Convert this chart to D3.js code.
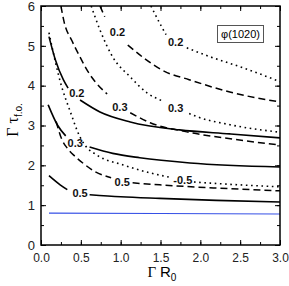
<!DOCTYPE html>
<html>
<head>
<meta charset="utf-8">
<script src="https://cdn.jsdelivr.net/npm/d3@7"></script>
<style>
  body { margin: 0; background: #fff; }
  text { font-family: "Liberation Sans", Arial, sans-serif; }
</style>
</head>
<body>
<svg id="chart" width="289" height="286"></svg>
<script>
// tick values
var xTickVals = [0, 0.5, 1.0, 1.5, 2.0, 2.5, 3.0];
var yTickVals = [0, 1, 2, 3, 4, 5, 6];

// curves, null = gap where the label sits
var solid02 = [[0.10,5.23],[0.18,4.65],[0.28,4.15],[0.34,3.94],null,[0.49,3.64],[0.74,3.34],[1.12,3.09],[1.74,2.89],[2.37,2.79],[3.0,2.69]];
var solid03 = [[0.09,3.52],[0.21,3.00],[0.31,2.74],null,[0.61,2.46],[0.90,2.30],[1.24,2.19],[1.87,2.06],[3.0,1.96]];
var solid05 = [[0.10,1.74],[0.24,1.51],[0.33,1.39],null,[0.61,1.26],[1.0,1.21],[1.49,1.17],[2.2,1.12],[3.0,1.08]];

var dashed02 = [[0.74,6.0],[0.80,5.73],null,[1.09,5.02],[1.30,4.68],[1.55,4.36],[1.86,4.15],[2.37,3.84],[3.0,3.59]];
var dashed03 = [[0.25,6.0],[0.29,5.6],[0.39,5.12],[0.49,4.72],[0.59,4.35],[0.68,4.10],[0.83,3.79],null,[1.12,3.32],[1.37,3.07],[1.83,2.84],[2.4,2.66],[3.0,2.51]];
var dashed05 = [[0.19,3.10],[0.26,2.66],[0.33,2.43],[0.43,2.22],[0.53,2.05],[0.67,1.85],[0.88,1.69],null,[1.15,1.56],[1.49,1.51],[2.2,1.43],[3.0,1.36]];

var dotted02 = [[1.38,6.0],[1.50,5.53],[1.57,5.28],null,[1.83,4.95],[2.13,4.72],[2.55,4.44],[3.0,4.10]];
var dotted03 = [[0.63,6.0],[0.74,5.40],[0.90,4.72],[1.12,4.22],[1.33,3.82],[1.52,3.62],null,[1.86,3.30],[1.96,3.22],[2.37,3.02],[3.0,2.83]];
var dotted05 = [[0.10,5.33],[0.26,3.97],[0.36,3.39],[0.49,2.71],[0.55,2.51],[0.70,2.26],[1.03,2.01],[1.37,1.81],[1.62,1.70],null,[1.92,1.58],[2.4,1.52],[3.0,1.46]];

var blueLine = [[0.10,0.80],[1.5,0.79],[3.0,0.78]];

// curve labels (text + where they sit in data units)
var labelText = ["0.2","0.3","0.5","0.2","0.3","0.5","0.2","0.3","-0.5"];
var labelX    = [0.45, 0.43, 0.49, 0.96, 0.99, 1.02, 1.69, 1.69, 1.78];
var labelY    = [3.82, 2.55, 1.31, 5.34, 3.47, 1.58, 5.10, 3.44, 1.64];

var legendLabel = "\u03c6(1020)";

var svg = d3.select("#chart");
var mLeft = 41, mRight = 280, mTop = 6, mBottom = 245;

var x = d3.scaleLinear().domain([0, 3]).range([mLeft, mRight]);
var y = d3.scaleLinear().domain([0, 6]).range([mBottom, mTop]);

var minorX = d3.range(0, 3.01, 0.25);
var minorY = d3.range(0, 6.01, 0.5);

svg.append("clipPath").attr("id", "plotclip")
  .append("rect").attr("x", mLeft).attr("y", mTop)
  .attr("width", mRight - mLeft).attr("height", mBottom - mTop);

// axes: ticks point inwards on all four sides
function styleAxis(g) {
  g.select(".domain").remove();
  g.selectAll(".tick line").attr("stroke", "#000").attr("stroke-width", 1);
  g.selectAll(".tick text").attr("fill", "#222")
    .style("font-size", "12px")
    .style("font-family", "'Liberation Sans', Arial, sans-serif");
}

svg.append("g").attr("transform", "translate(0," + mBottom + ")")
  .call(d3.axisBottom(x).tickValues(xTickVals).tickSize(-5).tickPadding(8).tickFormat(d3.format(".1f")))
  .call(styleAxis);
svg.append("g").attr("transform", "translate(0," + mBottom + ")")
  .call(d3.axisBottom(x).tickValues(minorX).tickSize(-3).tickFormat(""))
  .call(styleAxis);
svg.append("g").attr("transform", "translate(0," + mTop + ")")
  .call(d3.axisTop(x).tickValues(xTickVals).tickSize(-5).tickFormat(""))
  .call(styleAxis);
svg.append("g").attr("transform", "translate(0," + mTop + ")")
  .call(d3.axisTop(x).tickValues(minorX).tickSize(-3).tickFormat(""))
  .call(styleAxis);

svg.append("g").attr("transform", "translate(" + mLeft + ",0)")
  .call(d3.axisLeft(y).tickValues(yTickVals).tickSize(-5).tickPadding(6).tickFormat(d3.format("d")))
  .call(styleAxis)
  .selectAll(".tick text").style("font-size", "13px");
svg.append("g").attr("transform", "translate(" + mLeft + ",0)")
  .call(d3.axisLeft(y).tickValues(minorY).tickSize(-3).tickFormat(""))
  .call(styleAxis);
svg.append("g").attr("transform", "translate(" + mRight + ",0)")
  .call(d3.axisRight(y).tickValues(yTickVals).tickSize(-5).tickFormat(""))
  .call(styleAxis);
svg.append("g").attr("transform", "translate(" + mRight + ",0)")
  .call(d3.axisRight(y).tickValues(minorY).tickSize(-3).tickFormat(""))
  .call(styleAxis);

// the curves
var line = d3.line()
  .defined(function(d) { return d !== null; })
  .x(function(d) { return x(d[0]); })
  .y(function(d) { return y(d[1]); })
  .curve(d3.curveMonotoneX);

var plot = svg.append("g").attr("clip-path", "url(#plotclip)");

function drawCurve(data, dash, width, color) {
  plot.append("path")
    .datum(data)
    .attr("d", line)
    .attr("fill", "none")
    .attr("stroke", color || "#000")
    .attr("stroke-width", width)
    .attr("stroke-dasharray", dash);
}

drawCurve(blueLine, null, 1.1, "#3650e6");

drawCurve(solid02, null, 1.6);
drawCurve(solid03, null, 1.6);
drawCurve(solid05, null, 1.6);

drawCurve(dashed02, "7,4", 1.5);
drawCurve(dashed03, "7,4", 1.5);
drawCurve(dashed05, "7,4", 1.5);

drawCurve(dotted02, "1.6,3.6", 1.6);
drawCurve(dotted03, "1.6,3.6", 1.6);
drawCurve(dotted05, "1.6,3.6", 1.6);

// labels on the curves
svg.append("g").selectAll("text")
  .data(labelText)
  .join("text")
  .attr("x", function(d, i) { return x(labelX[i]); })
  .attr("y", function(d, i) { return y(labelY[i]); })
  .attr("text-anchor", "middle")
  .attr("dy", "0.36em")
  .style("font-size", "11px")
  .style("font-weight", "bold")
  .attr("fill", "#111")
  .text(function(d) { return d; });

// frame
svg.append("rect")
  .attr("x", mLeft).attr("y", mTop)
  .attr("width", mRight - mLeft).attr("height", mBottom - mTop)
  .attr("fill", "none").attr("stroke", "#000").attr("stroke-width", 1.5);

// legend box
svg.append("rect")
  .attr("x", 217.5).attr("y", 25.5).attr("width", 46).attr("height", 17)
  .attr("fill", "#fff").attr("stroke", "#555").attr("stroke-width", 1);
svg.append("text")
  .attr("x", 240.5).attr("y", 37.5)
  .attr("text-anchor", "middle")
  .style("font-size", "11px")
  .text(legendLabel);

// axis titles
var xt = svg.append("text")
  .attr("x", 162).attr("y", 277)
  .attr("text-anchor", "middle")
  .style("font-size", "15px");
xt.append("tspan").style("font-family", "'Liberation Serif', 'Times New Roman', serif").text("\u0393 ");
xt.append("tspan").text("R");
xt.append("tspan").attr("dy", 4).style("font-size", "10px").text("0");

var yt = svg.append("text")
  .attr("transform", "translate(18,120) rotate(-90)")
  .attr("text-anchor", "middle")
  .style("font-size", "16px")
  .style("font-family", "'Liberation Serif', 'Times New Roman', serif");
yt.append("tspan").text("\u0393  \u03c4");
yt.append("tspan").attr("dy", 4)
  .style("font-family", "'Liberation Sans', Arial, sans-serif")
  .style("font-size", "10px").text("f.o.");
</script>
</body>
</html>
